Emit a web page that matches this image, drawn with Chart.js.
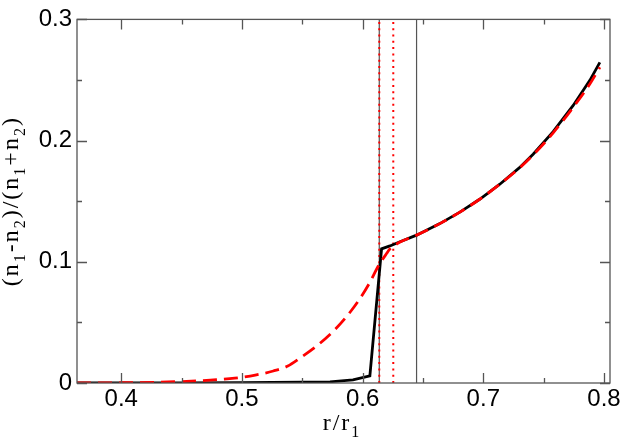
<!DOCTYPE html>
<html><head><meta charset="utf-8">
<script src="https://cdn.jsdelivr.net/npm/chart.js@4"></script>
<style>html,body{margin:0;padding:0;background:#fff}canvas{display:block}</style>
</head><body>
<canvas id="c" width="623" height="447"></canvas>
<script>
// ---- data ----
const xTickValues = [0.4, 0.5, 0.6, 0.7, 0.8];
const xTickLabels = ['0.4', '0.5', '0.6', '0.7', '0.8'];
const xMinorValues = [0.45, 0.55, 0.65, 0.75];
const yTickValues = [0, 0.1, 0.2, 0.3];
const yTickLabels = ['0', '0.1', '0.2', '0.3'];
const yMinorValues = [0.05, 0.15, 0.25];

const blackX = [0.3633, 0.45, 0.50, 0.55, 0.573, 0.592, 0.606, 0.6157, 0.6226, 0.631, 0.6447, 0.664, 0.6806, 0.697, 0.7137, 0.730, 0.7413, 0.7579, 0.7745, 0.7883, 0.7966];
const blackY = [0, 0, 0.0002, 0.0006, 0.001, 0.0026, 0.0059, 0.1107, 0.1131, 0.1165, 0.122, 0.1315, 0.141, 0.1516, 0.164, 0.1777, 0.1888, 0.2074, 0.229, 0.2497, 0.2645];

const redX = [0.3633, 0.40, 0.429, 0.45, 0.464, 0.479, 0.494, 0.511, 0.526, 0.538, 0.548, 0.562, 0.5757, 0.5867, 0.5978, 0.606, 0.613, 0.620, 0.6226, 0.631, 0.6447, 0.664, 0.6806, 0.697, 0.7137, 0.730, 0.7413, 0.7579, 0.7745, 0.7883, 0.7966];
const redY = [0, 0.0002, 0.0006, 0.0012, 0.0018, 0.0027, 0.004, 0.0065, 0.0099, 0.014, 0.0205, 0.0306, 0.0427, 0.0548, 0.0696, 0.083, 0.0965, 0.107, 0.1105, 0.1163, 0.122, 0.1315, 0.141, 0.1516, 0.164, 0.1774, 0.1882, 0.2064, 0.2275, 0.2467, 0.2605];

const grayLineX = [0.6138, 0.6447];
const redDotX = [0.6138, 0.6254];

const xMin = 0.3633, xMax = 0.805, yMin = 0, yMax = 0.3;

const toPts = (xs, ys) => xs.map((x, i) => ({x: x, y: ys[i]}));
const vline = x => [{x: x, y: yMin}, {x: x, y: yMax}];

const datasets = [
  {data: toPts(redX, redY), borderColor: '#ff0000', borderWidth: 2.8, borderDash: [14, 7], cubicInterpolationMode: 'monotone', pointRadius: 0, order: 0},
  {data: toPts(blackX, blackY), borderColor: '#000000', borderWidth: 2.8, tension: 0, pointRadius: 0, order: 1},
];
redDotX.forEach(x => datasets.push({data: vline(x), borderColor: '#ff0000', borderWidth: 2, borderDash: [2, 4.3], pointRadius: 0, order: 2}));
grayLineX.forEach(x => datasets.push({data: vline(x), borderColor: '#555555', borderWidth: 1.2, pointRadius: 0, order: 3}));

function measureParts(ctx, parts, mainFont, subFont) {
  let w = 0;
  parts.forEach(p => { ctx.font = p[1] ? subFont : mainFont; w += ctx.measureText(p[0]).width; });
  return w;
}
function renderParts(ctx, parts, x, y, mainFont, subFont, subDy) {
  let cx = x;
  parts.forEach(p => {
    ctx.font = p[1] ? subFont : mainFont;
    ctx.fillText(p[0], cx, p[1] ? y + subDy : y);
    cx += ctx.measureText(p[0]).width;
  });
}

const framePlugin = {
  id: 'frame',
  afterDraw(chart) {
    const ctx = chart.ctx, a = chart.chartArea;
    const xs = chart.scales.x, ys = chart.scales.y;
    ctx.save();
    ctx.strokeStyle = '#555555';
    ctx.lineWidth = 1.3;
    ctx.strokeRect(a.left, a.top, a.right - a.left, a.bottom - a.top);
    ctx.beginPath();
    const tick = (vals, len) => {
      vals.forEach(v => {
        const px = Math.round(xs.getPixelForValue(v)) + 0.5;
        ctx.moveTo(px, a.bottom); ctx.lineTo(px, a.bottom - len);
        ctx.moveTo(px, a.top); ctx.lineTo(px, a.top + len);
      });
    };
    const tickY = (vals, len) => {
      vals.forEach(v => {
        const py = Math.round(ys.getPixelForValue(v)) + 0.5;
        ctx.moveTo(a.left, py); ctx.lineTo(a.left + len, py);
        ctx.moveTo(a.right, py); ctx.lineTo(a.right - len, py);
      });
    };
    tick(xTickValues, 10); tick(xMinorValues, 5);
    tickY(yTickValues, 10); tickY(yMinorValues, 5);
    ctx.stroke();

    ctx.fillStyle = '#000';
    ctx.textBaseline = 'alphabetic';
    ctx.textAlign = 'left';
    ctx.letterSpacing = '2px';
    const mainFont = '24px "Liberation Serif"', subFont = '16px "Liberation Serif"';
    // x title
    const xParts = [['r/r', false], ['1', true]];
    const xw = measureParts(ctx, xParts, mainFont, subFont);
    renderParts(ctx, xParts, 342 - xw / 2, 430, mainFont, subFont, 7);
    // y title
    const yParts = [['(n', false], ['1', true], ['-n', false], ['2', true], [')/(n', false], ['1', true], ['+n', false], ['2', true], [')', false]];
    const yw = measureParts(ctx, yParts, mainFont, subFont);
    ctx.translate(18, (a.top + a.bottom) / 2);
    ctx.rotate(-Math.PI / 2);
    renderParts(ctx, yParts, -yw / 2, 0, mainFont, subFont, 7);
    ctx.letterSpacing = '0px';
    ctx.restore();
  }
};

new Chart(document.getElementById('c'), {
  type: 'line',
  data: {datasets: datasets},
  options: {
    responsive: false,
    animation: false,
    events: [],
    layout: {padding: {left: 0, top: 11, right: 13, bottom: 0}},
    plugins: {legend: {display: false}, tooltip: {enabled: false}},
    scales: {
      x: {
        type: 'linear', min: xMin, max: xMax,
        afterBuildTicks: s => { s.ticks = xTickValues.map(v => ({value: v})); },
        afterFit: s => { s.height = 64; },
        grid: {display: false, drawTicks: false},
        border: {display: false},
        ticks: {
          padding: 2, color: '#000', maxRotation: 0, autoSkip: false,
          font: {family: 'Liberation Sans', size: 24},
          callback: (v, i) => xTickLabels[i]
        }
      },
      y: {
        type: 'linear', min: yMin, max: yMax,
        afterBuildTicks: s => { s.ticks = yTickValues.map(v => ({value: v})); },
        afterFit: s => { s.width = 77; },
        grid: {display: false, drawTicks: false},
        border: {display: false},
        ticks: {
          padding: 5, color: '#000', autoSkip: false,
          font: {family: 'Liberation Sans', size: 24},
          callback: (v, i) => yTickLabels[i]
        }
      }
    }
  },
  plugins: [framePlugin]
});
</script>
</body></html>
